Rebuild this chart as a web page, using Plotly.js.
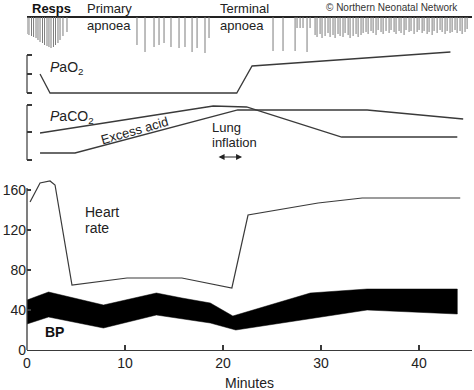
<!DOCTYPE html>
<html>
<head>
<meta charset="utf-8">
<script src="https://cdn.plot.ly/plotly-3.0.1.min.js"></script>
<style>html,body{margin:0;padding:0;background:#fff;}#chart{width:474px;height:390px;}</style>
</head>
<body>
<div id="chart"></div>
<script>
// ---- Data (minutes on x) ----
const xTicks = [0, 10, 20, 30, 40];
const yTicks = [0, 40, 80, 120, 160];

// Heart rate (beats/min)
const hrTime = [0.31, 1.33, 2.35, 2.86, 4.59, 10.2, 15.8, 20.9, 22.55, 29.7, 34.2, 44.2];
const hrValue = [148, 167, 169, 165, 65, 72, 72, 62, 135, 147, 152, 152];

// Blood pressure band (mmHg)
const bpUpperTime = [0, 2.2, 7.8, 13.2, 15.8, 18.7, 21.0, 28.9, 34.7, 43.9];
const bpUpper = [50, 58, 45, 57, 52, 47, 34, 57, 61, 61];
const bpLowerTime = [0, 2.2, 7.8, 13.2, 18.7, 21.3, 34.7, 43.9];
const bpLower = [26, 33, 22, 35, 27, 20, 40, 36];

// PaO2 (schematic level)
const pao2Time = [1.33, 2.35, 21.4, 22.96, 43.2];
const pao2Level = [22, 3, 3, 30, 44];

// PaCO2 and excess acid (schematic level)
const paco2Time = [1.33, 19.0, 22.4, 32.1, 43.9];
const paco2Level = [30, 57, 56, 26, 26];
const acidTime = [1.33, 4.9, 21.5, 34.7, 44.5];
const acidLevel = [10, 10, 53, 53, 44];

// Respirations (tick depth below baseline)
const respTimes = [
  0, 0.2, 0.46, 0.67, 0.92, 1.12, 1.33, 1.58, 1.79, 2.04, 2.24, 2.45, 2.7, 2.91, 3.16, 3.37, 3.67, 4.08,
  11.22, 12.04, 12.96, 13.47, 13.98, 14.69, 15.51, 16.12, 16.84, 17.35, 18.16, 18.57,
  25.1, 26.12, 27.35, 27.55, 27.86, 28.16, 28.57, 28.88,
  29.39, 29.59, 29.90, 30.10, 30.41, 30.71, 30.92, 31.22, 31.43, 31.73, 31.94, 32.24, 32.45, 32.76, 32.96,
  33.27, 33.57, 33.78, 34.08, 34.29, 34.59, 34.80, 35.10, 35.31, 35.61, 35.82, 36.12, 36.33, 36.63, 36.94,
  37.14, 37.45, 37.65, 37.96, 38.16, 38.47, 38.67, 38.98, 39.18, 39.49, 39.80, 40.00, 40.31, 40.51, 40.82,
  41.02, 41.33, 41.53, 41.84, 42.14, 42.35, 42.65, 42.86, 43.16, 43.37, 43.67, 43.88, 44.18, 44.39, 44.69, 44.90
];
const respDepths = [
  -17, -18, -19, -20, -21, -23, -25, -26, -28, -29, -30, -31, -30, -28, -26, -23, -19, -15,
  -28, -35, -30, -28, -26, -30, -31, -30, -35, -31, -36, -21,
  -34, -34, -34, -11, -11, -11, -35, -11,
  -18, -20, -17, -21, -19, -16, -20, -18, -21, -17, -19, -20, -16, -18, -21,
  -19, -17, -20, -18, -16, -15, -17, -14, -16, -18, -13, -15, -17, -14, -16,
  -13, -15, -17, -14, -16, -18, -13, -15, -14, -17, -15, -13, -16, -14, -17,
  -15, -18, -14, -16, -13, -15, -17, -14, -16, -15, -13, -16, -14, -17, -15, -12
];

const lineCol = '#3a3a3a';
const FONT = 'Arial, "Liberation Sans", Helvetica, sans-serif';

const traces = [
  {type:'bar', x:respTimes, y:respDepths, width:0.1, marker:{color:'#7a7a7a', line:{width:0}}, xaxis:'x', yaxis:'y4', hoverinfo:'skip'},
  {type:'scatter', mode:'lines', x:pao2Time, y:pao2Level, line:{color:lineCol, width:1.3}, xaxis:'x', yaxis:'y3'},
  {type:'scatter', mode:'lines', x:paco2Time, y:paco2Level, line:{color:lineCol, width:1.3}, xaxis:'x', yaxis:'y2'},
  {type:'scatter', mode:'lines', x:acidTime, y:acidLevel, line:{color:lineCol, width:1.3}, xaxis:'x', yaxis:'y2'},
  {type:'scatter', mode:'lines', fill:'toself', fillcolor:'#000',
   x: bpUpperTime.concat(bpLowerTime.slice().reverse()),
   y: bpUpper.concat(bpLower.slice().reverse()),
   line:{color:'#000', width:0.5}, xaxis:'x', yaxis:'y'},
  {type:'scatter', mode:'lines', x:hrTime, y:hrValue, line:{color:lineCol, width:1.2}, xaxis:'x', yaxis:'y'}
];

const noGrid = {showgrid:false, zeroline:false};
const layout = {
  width:474, height:390,
  margin:{l:27, r:2, t:0, b:40},
  paper_bgcolor:'#fff', plot_bgcolor:'rgba(0,0,0,0)',
  showlegend:false,
  font:{family:FONT, color:'#222', size:14},
  xaxis:Object.assign({range:[0,45.4], anchor:'y', showline:true, linecolor:lineCol, linewidth:1.3,
    ticks:'inside', ticklen:5, tickcolor:lineCol, tickwidth:1.2, tickvals:xTicks, tickfont:{size:14, color:'#222'}}, noGrid),
  yaxis:Object.assign({domain:[0,0.5], range:[0,175], anchor:'x', showline:false, automargin:false,
    ticks:'inside', ticklen:4, tickcolor:lineCol, tickwidth:1.2, tickvals:yTicks, tickfont:{size:14, color:'#222'}}, noGrid),
  yaxis2:Object.assign({domain:[0.5343,0.7143], range:[0,63], anchor:'x', tickvals:[3,31,58],
    ticks:'inside', ticklen:5, tickcolor:lineCol, tickwidth:1.2, showticklabels:false}, noGrid),
  yaxis3:Object.assign({domain:[0.7257,0.8629], range:[0,48], anchor:'x', tickvals:[3,22,41],
    ticks:'inside', ticklen:5, tickcolor:lineCol, tickwidth:1.2, showticklabels:false}, noGrid),
  yaxis4:{domain:[0.8286,1], range:[-43,17], anchor:'x', showgrid:false, showticklabels:false, ticks:'',
    zeroline:true, zerolinecolor:'#222', zerolinewidth:1.6},
  shapes:[
    {type:'line', xref:'paper', yref:'y', x0:0, x1:0, y0:0, y1:162, line:{color:lineCol, width:1.3}},
    {type:'line', xref:'paper', yref:'y2', x0:0, x1:0, y0:3, y1:58, line:{color:lineCol, width:1.2}},
    {type:'line', xref:'paper', yref:'y3', x0:0, x1:0, y0:3, y1:41, line:{color:lineCol, width:1.2}}
  ],
  annotations:[
    {text:'<b>Resps</b>', x:2.45, y:9, xref:'x', yref:'y4', showarrow:false, font:{size:13, color:'#111'}},
    {text:'Primary', x:5.92, y:9, xref:'x', yref:'y4', xanchor:'left', showarrow:false, font:{size:13}},
    {text:'apnoea', x:5.92, y:-8, xref:'x', yref:'y4', xanchor:'left', showarrow:false, font:{size:13}},
    {text:'Terminal', x:19.5, y:9, xref:'x', yref:'y4', xanchor:'left', showarrow:false, font:{size:13}},
    {text:'apnoea', x:19.5, y:-8, xref:'x', yref:'y4', xanchor:'left', showarrow:false, font:{size:13}},
    {text:'© Northern Neonatal Network', x:44.2, y:10, xref:'x', yref:'y4', xanchor:'right', showarrow:false, font:{size:10, color:'#333'}},
    {text:'<i>P</i>aO<sub>2</sub>', x:2.14, y:28, xref:'x', yref:'y3', xanchor:'left', showarrow:false, font:{size:14}},
    {text:'<i>P</i>aCO<sub>2</sub>', x:2.14, y:46, xref:'x', yref:'y2', xanchor:'left', showarrow:false, font:{size:14}},
    {text:'Excess acid', x:11.0, y:32, xref:'x', yref:'y2', textangle:-16, showarrow:false, font:{size:13}},
    {text:'Lung', x:18.67, y:35, xref:'x', yref:'y2', xanchor:'left', showarrow:false, font:{size:13}},
    {text:'inflation', x:18.67, y:20, xref:'x', yref:'y2', xanchor:'left', showarrow:false, font:{size:13}},
    {text:'', x:21.94, y:6, xref:'x', yref:'y2', ax:19.39, ay:6, axref:'x', ayref:'y2', showarrow:true,
     arrowhead:2, startarrowhead:2, arrowside:'end+start', arrowsize:1, startarrowsize:1, arrowwidth:1.2, arrowcolor:'#222'},
    {text:'Heart', x:5.71, y:138, xref:'x', yref:'y', xanchor:'left', showarrow:false, font:{size:14}},
    {text:'rate', x:5.71, y:122, xref:'x', yref:'y', xanchor:'left', showarrow:false, font:{size:14}},
    {text:'<b>BP</b>', x:2.76, y:18, xref:'x', yref:'y', showarrow:false, font:{size:14, color:'#111'}},
    {text:'Minutes', x:0.501, y:-0.094, xref:'paper', yref:'paper', xanchor:'center', yanchor:'middle', showarrow:false, font:{size:14}}
  ]
};

Plotly.newPlot('chart', traces, layout, {displayModeBar:false, staticPlot:true});
</script>
</body>
</html>
